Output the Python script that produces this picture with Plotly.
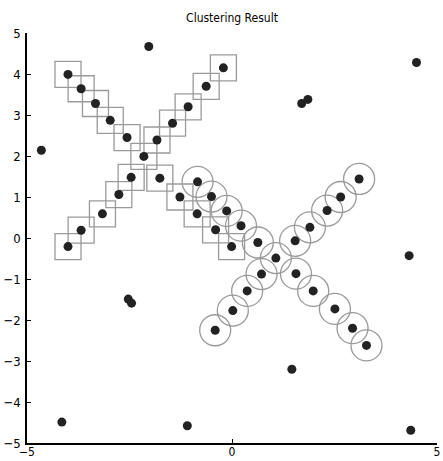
import plotly.graph_objects as go

# Square-marked cluster (X shape, upper-left)
sq_x = [-4.00, -3.68, -3.33, -2.97, -2.56, -2.15, -1.76, -1.27, -0.85, -0.40, -0.01,
        -4.00, -3.68, -3.16, -2.76, -2.46, -1.83, -1.45, -1.07, -0.63, -0.21]
sq_y = [3.99, 3.64, 3.28, 2.87, 2.45, 1.99, 1.46, 1.00, 0.59, 0.20, -0.21,
        -0.21, 0.19, 0.59, 1.06, 1.48, 2.39, 2.80, 3.20, 3.70, 4.15]

# Circle-marked cluster (X shape, lower-right)
ci_x = [-0.84, -0.50, -0.13, 0.22, 0.63, 1.07, 1.56, 1.98, 2.51, 2.94, 3.28,
        -0.41, 0.02, 0.37, 0.72, 1.54, 1.90, 2.32, 2.65, 3.10]
ci_y = [1.37, 1.01, 0.66, 0.30, -0.11, -0.49, -0.87, -1.29, -1.73, -2.20, -2.62,
        -2.25, -1.77, -1.29, -0.88, -0.07, 0.26, 0.67, 1.00, 1.44]

# Unclustered points (noise)
no_x = [-2.03, 4.50, 1.70, 1.85, -4.65, 4.32, -2.53, -2.45, 1.46, -4.15, -1.09, 4.36]
no_y = [4.67, 4.28, 3.28, 3.38, 2.14, -0.43, -1.49, -1.59, -3.20, -4.49, -4.58, -4.69]

x_ticks = [-5, 0, 5]
y_ticks = [-5, -4, -3, -2, -1, 0, 1, 2, 3, 4, 5]

outline = "#9a9a9a"
dot = "#222222"

fig = go.Figure()
fig.add_trace(go.Scatter(x=sq_x, y=sq_y, mode="markers", hoverinfo="skip",
                         marker=dict(symbol="square-open", size=26,
                                     line=dict(color=outline, width=1.3), color=outline)))
fig.add_trace(go.Scatter(x=ci_x, y=ci_y, mode="markers", hoverinfo="skip",
                         marker=dict(symbol="circle-open", size=31,
                                     line=dict(color=outline, width=1.3), color=outline)))
all_x = sq_x + ci_x + no_x
all_y = sq_y + ci_y + no_y
fig.add_trace(go.Scatter(x=all_x, y=all_y, mode="markers",
                         marker=dict(symbol="circle", size=9, color=dot,
                                     line=dict(width=0))))

font_family = "Liberation Sans Narrow, DejaVu Sans Condensed, Arial Narrow, sans-serif"

fig.update_layout(
    width=443, height=461,
    margin=dict(l=27, r=6, t=33, b=18),
    paper_bgcolor="white", plot_bgcolor="white",
    showlegend=False,
    font=dict(family=font_family, size=13, color="black"),
    title=dict(text="Clustering Result", x=0.5, xref="paper", xanchor="center",
               y=1 - 18 / 461, yref="container", yanchor="middle",
               font=dict(size=12, family=font_family, color="black")),
)
fig.update_xaxes(range=[-5, 5], tickvals=x_ticks, ticktext=[str(v).replace("-", "\u2212") for v in x_ticks],
                 automargin=False, tickfont=dict(size=12),
                 showgrid=False, zeroline=False, showline=True, linecolor="black", linewidth=1.5,
                 ticks="inside", ticklen=4, tickcolor="black", tickwidth=1, ticklabelstandoff=-3)
fig.update_yaxes(range=[-5, 5], tickvals=y_ticks, ticktext=[str(v).replace("-", "\u2212") for v in y_ticks],
                 automargin=False,
                 showgrid=False, zeroline=False, showline=True, linecolor="black", linewidth=1.5,
                 ticks="inside", ticklen=4, tickcolor="black", tickwidth=1, ticklabelstandoff=2)

fig.write_html("out.html")
